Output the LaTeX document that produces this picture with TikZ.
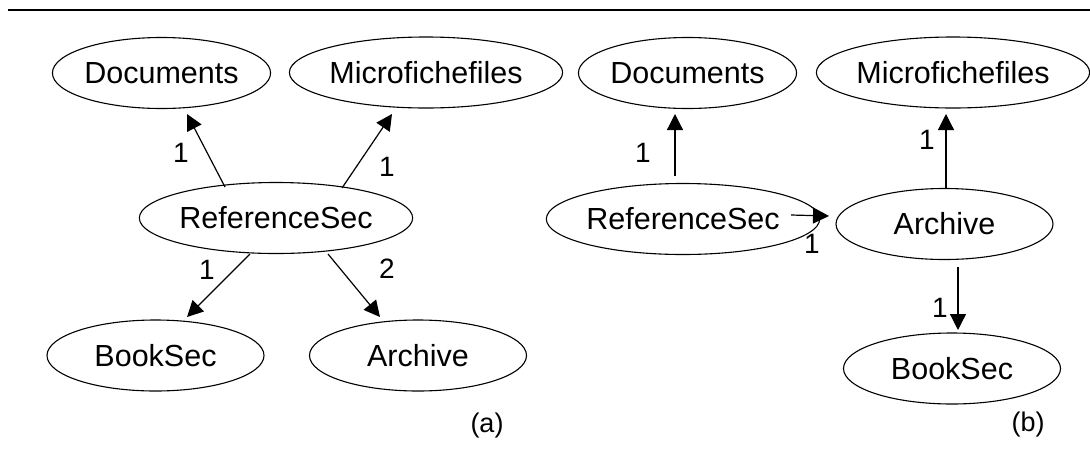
\documentclass[tikz,border=0pt]{standalone}
\usepackage{fontspec}
\setmainfont{Liberation Sans}
\usetikzlibrary{shapes.geometric,arrows.meta}
\begin{document}
\begin{tikzpicture}[x=1pt,y=-1pt,
  entity/.style={ellipse,draw,line width=1.1pt,minimum width=217pt,minimum height=71pt,
    inner sep=0pt,font=\fontsize{30.5}{35}\selectfont},
  link/.style={line width=1.2pt,-{Triangle[length=16pt,width=16pt]}},
  card/.style={font=\fontsize{28}{32}\selectfont,inner sep=0pt},
  caption/.style={font=\fontsize{27}{31}\selectfont,inner sep=0pt},
  toprule/.style={line width=2pt}]
\useasboundingbox (0,0) rectangle (1090,448);

% header rule
\coordinate (ruleL) at (8,10);
\coordinate (ruleR) at (1090,10);
\draw[toprule] (ruleL) -- (ruleR);

% ---------- (a) ----------
\node[entity] (docA)  at (161.5,73)  {Documents};
\node[entity] (micA)  at (426,72.5)  {Microfichefiles};
\node[entity] (refA)  at (276,218)   {ReferenceSec};
\node[entity] (bookA) at (155.5,355.5) {BookSec};
\node[entity] (arcA)  at (418,355.5) {Archive};

\draw[link] ([shift={(-51,-31)}]refA.center) -- ([shift={(25.5,41)}]docA.center);
\draw[link] ([shift={(66,-30)}]refA.center)  -- ([shift={(-34,41.5)}]micA.center);
\draw[link] ([shift={(-26,36)}]refA.center)  -- ([shift={(31.5,-38.5)}]bookA.center);
\draw[link] ([shift={(52,36)}]refA.center)   -- ([shift={(-38,-38.5)}]arcA.center);

\node[card] (cA1) at (181,153) {1};
\node[card] (cA2) at (387,167) {1};
\node[card] (cA3) at (207,270) {1};
\node[card] (cA4) at (387,269) {2};

\node[caption] (capA) at (487,426) {(a)};

% ---------- (b) ----------
\node[entity] (docB)  at (687.5,73)  {Documents};
\node[entity] (micB)  at (953,72.5)  {Microfichefiles};
\node[entity] (refB)  at (683,219)   {ReferenceSec};
\node[entity] (arcB)  at (944.5,224) {Archive};
\node[entity] (bookB) at (952,368.5) {BookSec};

\draw[link] ([shift={(-8,-43)}]refB.center)  -- ([shift={(-12.5,41)}]docB.center);
\draw[link] ([shift={(108,-4)}]refB.center)  -- ([shift={(-115.5,-8)}]arcB.center);
\draw[link] ([shift={(1.5,-36)}]arcB.center) -- ([shift={(-7,41.5)}]micB.center);
\draw[link] ([shift={(13.5,43)}]arcB.center) -- ([shift={(6,-38.5)}]bookB.center);

\node[card] (cB1) at (643,153) {1};
\node[card] (cB2) at (812,244) {1};
\node[card] (cB3) at (927,140) {1};
\node[card] (cB4) at (940,308) {1};

\node[caption] (capB) at (1028,425) {(b)};
\end{tikzpicture}
\end{document}
